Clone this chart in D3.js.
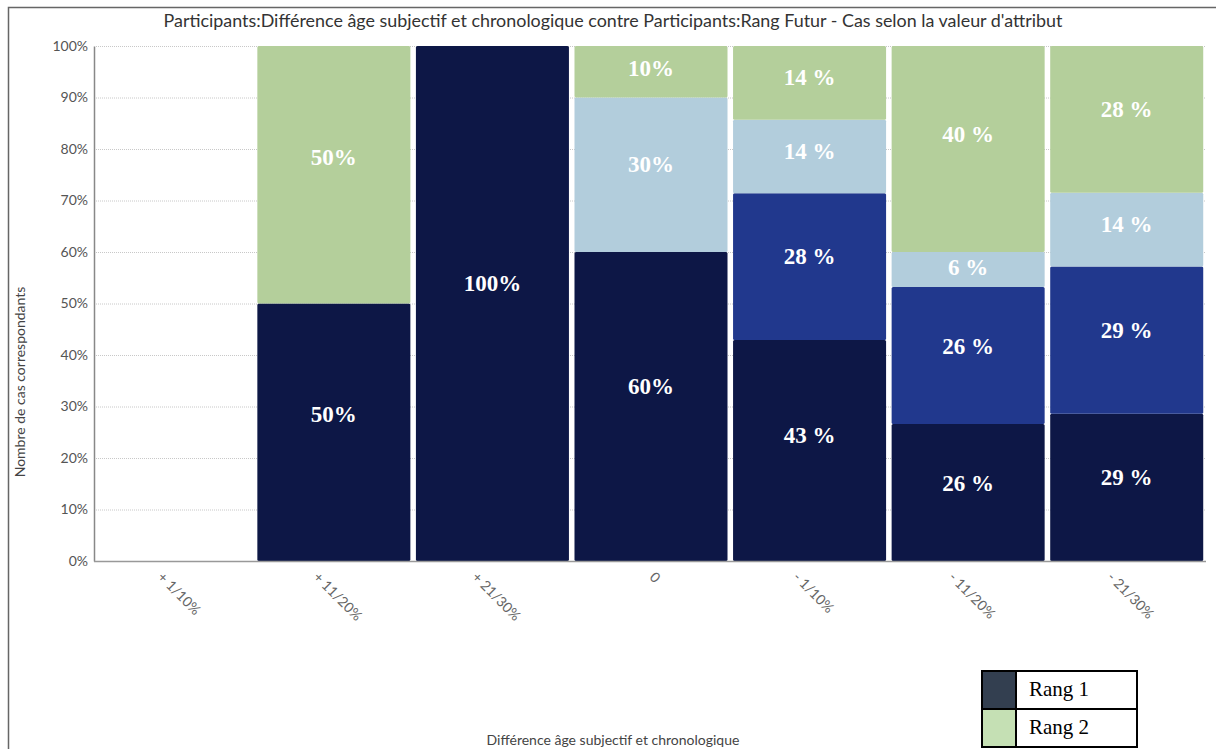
<!DOCTYPE html>
<html><head><meta charset="utf-8">
<script src="https://cdn.jsdelivr.net/npm/d3@7"></script>
<style>
html,body{margin:0;padding:0;background:#fff;}
svg{display:block;}
</style></head>
<body>
<svg id="chart" width="1216" height="749"></svg>
<script>
// ---- data ----
const title = "Participants:Différence âge subjectif et chronologique contre Participants:Rang Futur - Cas selon la valeur d'attribut";
const xTitle = "Différence âge subjectif et chronologique";
const yTitle = "Nombre de cas correspondants";
const categories = ["+ 1/10%", "+ 11/20%", "+ 21/30%", "0", "- 1/10%", "- 11/20%", "- 21/30%"];
const seriesNames = ["Rang 1", "Rang 2", "Rang 3", "Rang 4"];
const rang1 = [0, 50, 100, 60, 42.9, 26.6, 28.6];
const rang2 = [0, 0, 0, 0, 28.5, 26.6, 28.6];
const rang3 = [0, 0, 0, 30, 14.3, 6.8, 14.3];
const rang4 = [0, 50, 0, 10, 14.3, 40, 28.5];
const rang1Labels = ["", "50%", "100%", "60%", "43 %", "26 %", "29 %"];
const rang2Labels = ["", "", "", "", "28 %", "26 %", "29 %"];
const rang3Labels = ["", "", "", "30%", "14 %", "6 %", "14 %"];
const rang4Labels = ["", "50%", "", "10%", "14 %", "40 %", "28 %"];
const yTicks = [0, 10, 20, 30, 40, 50, 60, 70, 80, 90, 100];
const legendNames = ["Rang 1", "Rang 2"];

const seriesValues = [rang1, rang2, rang3, rang4];
const seriesLabels = [rang1Labels, rang2Labels, rang3Labels, rang4Labels];
const colors = ["#0d1746", "#21388d", "#b2cddc", "#b4cf9b"];
const legendColors = ["#333f50", "#c5e0b4"];

const svg = d3.select("#chart");

// outer frame (left + top)
svg.append("path").attr("d", "M8.5,749 L8.5,7.5 L1216,7.5")
  .attr("fill", "none").attr("stroke", "#666").attr("stroke-width", 1.5);

const x = d3.scaleBand().domain(categories).range([96, 1206]).paddingInner(0.035).paddingOuter(0.0175);
const y = d3.scaleLinear().domain([0, 100]).range([561, 46]);

// gridlines
svg.append("g").selectAll("line").data(yTicks.filter(t => t > 0)).join("line")
  .attr("x1", 96).attr("x2", 1206)
  .attr("y1", d => y(d) + 0.5).attr("y2", d => y(d) + 0.5)
  .attr("stroke", "#c8c8c8").attr("stroke-width", 1).attr("stroke-dasharray", "1,1");

// y axis
const yAxis = d3.axisLeft(y).tickValues(yTicks).tickFormat(d => d + "%").tickSize(0).tickPadding(6);
const gy = svg.append("g").attr("transform", "translate(94,0)").call(yAxis);
gy.select(".domain").attr("stroke", "#888").attr("stroke-width", 1.5);
gy.selectAll("text").attr("font-family", "Lato").attr("font-size", 14).attr("fill", "#555");

// stacked data
const table = categories.map((c, i) => {
  const o = { cat: c };
  seriesNames.forEach((s, k) => o[s] = seriesValues[k][i]);
  return o;
});
const stack = d3.stack().keys(seriesNames)(table);

const gBars = svg.append("g");
stack.forEach((layer, k) => {
  gBars.append("g").attr("fill", colors[k]).selectAll("rect").data(layer).join("rect")
    .filter(d => d[1] - d[0] > 0)
    .attr("x", d => x(d.data.cat))
    .attr("y", d => y(d[1]))
    .attr("width", x.bandwidth())
    .attr("height", d => y(d[0]) - y(d[1]))
    .attr("rx", 1.5);
});

// value labels
stack.forEach((layer, k) => {
  gBars.append("g").selectAll("text").data(layer).join("text")
    .filter((d, i) => seriesLabels[k][i] !== "")
    .attr("x", d => x(d.data.cat) + x.bandwidth() / 2)
    .attr("y", d => {
      const h = y(d[0]) - y(d[1]);
      return (y(d[0]) + y(d[1])) / 2 - Math.min(20, h * 0.07);
    })
    .attr("dy", "0.34em")
    .attr("text-anchor", "middle")
    .attr("font-family", "Liberation Serif, Times New Roman, serif")
    .attr("font-weight", "bold")
    .attr("font-size", 23)
    .attr("fill", "#fff")
    .text(d => seriesLabels[k][categories.indexOf(d.data.cat)]);
});

// x axis line
svg.append("line").attr("x1", 94).attr("x2", 1206).attr("y1", 561.5).attr("y2", 561.5)
  .attr("stroke", "#999").attr("stroke-width", 1.5);

// x labels rotated 45deg
const gx = svg.append("g");
categories.forEach(c => {
  const t = gx.append("text")
    .attr("font-family", "Lato").attr("font-size", 14).attr("fill", "#666")
    .attr("text-anchor", "middle").attr("dy", "0.35em")
    .text(c);
  const L = t.node().getComputedTextLength();
  const half = (L * Math.SQRT1_2 + 10 * Math.SQRT1_2) / 2;
  const cx = x(c) + x.bandwidth() / 2 + 4;
  const cy = 571 + half;
  t.attr("transform", `translate(${cx},${cy}) rotate(45)`);
});

// title
svg.append("text").attr("x", 613).attr("y", 27).attr("text-anchor", "middle")
  .attr("font-family", "Lato").attr("font-size", 17.9).attr("fill", "#333").text(title);

// axis titles
svg.append("text").attr("x", 613).attr("y", 745).attr("text-anchor", "middle")
  .attr("font-family", "Lato").attr("font-size", 14).attr("fill", "#444").text(xTitle);
svg.append("text").attr("transform", "translate(25,382) rotate(-90)").attr("text-anchor", "middle")
  .attr("font-family", "Lato").attr("font-size", 14).attr("fill", "#444").text(yTitle);

// legend table
const lg = svg.append("g").attr("transform", "translate(982,671)");
const rowH = 38;
legendNames.forEach((n, i) => {
  lg.append("rect").attr("x", 0).attr("y", i * rowH).attr("width", 34).attr("height", rowH).attr("fill", legendColors[i]);
  lg.append("text").attr("x", 47).attr("y", i * rowH + 25)
    .attr("font-family", "Liberation Serif, Times New Roman, serif").attr("font-size", 21).attr("fill", "#000").text(n);
});
lg.append("rect").attr("x", 0).attr("y", 0).attr("width", 155).attr("height", rowH * 2)
  .attr("fill", "none").attr("stroke", "#000").attr("stroke-width", 2);
lg.append("line").attr("x1", 0).attr("x2", 155).attr("y1", rowH).attr("y2", rowH).attr("stroke", "#000").attr("stroke-width", 2);
lg.append("line").attr("x1", 34).attr("x2", 34).attr("y1", 0).attr("y2", rowH * 2).attr("stroke", "#000").attr("stroke-width", 2);
</script>
</body></html>
